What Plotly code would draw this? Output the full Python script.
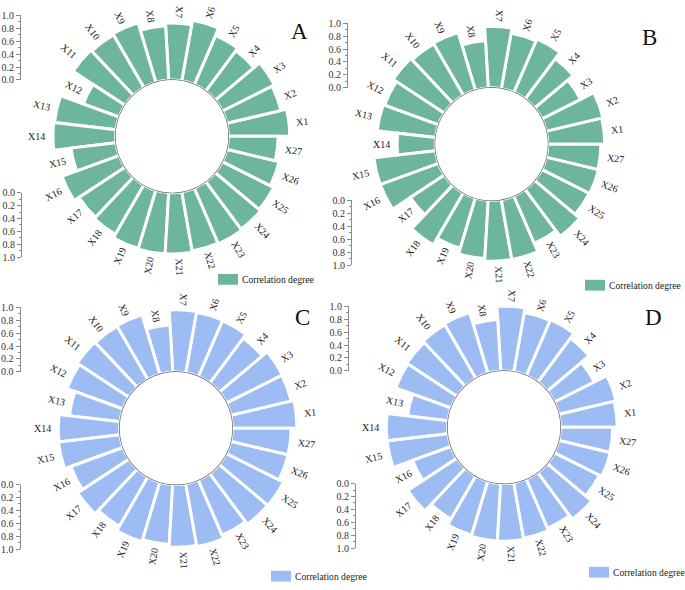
import numpy as np
import plotly.graph_objects as go

W, H = 685, 590

# ---- data ----
categories = ["X%d" % i for i in range(1, 28)]

values_a = [0.95, 0.86, 0.90, 0.78, 0.83, 0.95, 0.88, 0.84, 0.96, 0.94, 0.96, 0.59, 0.96, 0.97,
            0.70, 0.94, 0.85, 0.88, 0.94, 0.95, 0.95, 0.93, 0.94, 0.92, 0.89, 0.83, 0.77]
values_b = [0.88, 0.90, 0.67, 0.78, 0.90, 0.87, 0.95, 0.73, 0.93, 0.92, 0.95, 0.89, 0.91, 0.59,
            0.96, 0.96, 0.63, 0.93, 0.81, 0.90, 0.94, 0.94, 0.80, 0.91, 0.82, 0.83, 0.82]
values_c = [1.00, 0.96, 0.97, 0.87, 0.94, 0.95, 0.96, 0.73, 0.96, 0.95, 0.96, 0.92, 0.79, 0.95,
            0.96, 0.86, 0.95, 0.88, 0.96, 0.93, 0.97, 0.99, 0.93, 0.98, 0.99, 0.91, 0.91]
values_d = [0.88, 0.91, 0.69, 0.85, 0.94, 0.93, 1.00, 0.80, 0.98, 0.96, 0.93, 0.91, 0.63, 0.95,
            0.95, 0.63, 0.91, 0.77, 0.87, 0.89, 0.89, 0.87, 0.83, 0.90, 0.78, 0.82, 0.81]

panel_letters = ["A", "B", "C", "D"]
legend_label = "Correlation degree"
scale_ticks = [0.0, 0.2, 0.4, 0.6, 0.8, 1.0]

# ---- layout / style ----
GREEN = "#6db69b"
BLUE = "#9dbcf3"
FONT = "Liberation Serif"
R_IN = 57.5          # px radius of the hole
SPAN = 66.0          # px for a value of 1.0
R_OUT = R_IN + SPAN
N = len(categories)
STEP = 360.0 / N
theta = [STEP / 2 + i * STEP for i in range(N)]

panels = [
    dict(values=values_a, color=GREEN, cx=172, cy=133, up_x=20, low_x=21, letter=(299, 26), leg=(218, 279)),
    dict(values=values_b, color=GREEN, cx=491.5, cy=141, up_x=347, low_x=351, letter=(649, 32), leg=(585, 285)),
    dict(values=values_c, color=BLUE, cx=176, cy=431, up_x=19.5, low_x=19.5, letter=(302, 318), leg=(271, 582)),
    dict(values=values_d, color=BLUE, cx=504, cy=430, up_x=348, low_x=355, letter=(653, 318), leg=(589, 578)),
]

fig = go.Figure()
layout = {}
annotations = []
shapes = []

for k, p in enumerate(panels):
    pid = "polar" if k == 0 else "polar%d" % (k + 1)
    cx, cy = p["cx"], p["cy"]

    fig.add_trace(go.Barpolar(
        r=p["values"], theta=theta, width=[STEP] * N, subplot=pid,
        marker=dict(color=p["color"], line=dict(color="white", width=3)),
        name=legend_label, showlegend=False, hoverinfo="skip",
    ))
    ring = np.linspace(0, 360, 241)
    fig.add_trace(go.Scatterpolar(
        r=[0] * len(ring), theta=ring, subplot=pid, mode="lines",
        line=dict(color="#6a6a6a", width=1.4), cliponaxis=False,
        showlegend=False, hoverinfo="skip",
    ))

    layout[pid] = dict(
        domain=dict(x=[(cx - R_OUT) / W, (cx + R_OUT) / W],
                    y=[1 - (cy + R_OUT) / H, 1 - (cy - R_OUT) / H]),
        hole=R_IN / R_OUT, bgcolor="rgba(0,0,0,0)", bargap=0,
        radialaxis=dict(range=[0, 1], visible=False),
        angularaxis=dict(visible=False, direction="counterclockwise", rotation=0),
    )

    # category labels, radial
    for name, v, th in zip(categories, p["values"], theta):
        fs = 10
        tw = (0.72 + 0.5 * (len(name) - 1)) * fs
        rl = R_IN + v * SPAN + 5 + tw / 2
        a = np.radians(th)
        tp = ((th + 180) % 360) - 180
        if -90 < tp < 85:
            ang = -th
        else:
            ang = 180 - th
        ang = ((ang + 180) % 360) - 180
        annotations.append(dict(
            x=(cx + rl * np.cos(a)) / W, y=1 - (cy - rl * np.sin(a)) / H,
            xref="paper", yref="paper", text=name, showarrow=False, textangle=ang,
            xanchor="center", yanchor="middle", font=dict(family=FONT, size=fs, color="#1a1a1a"),
        ))

    # panel letter
    annotations.append(dict(
        x=p["letter"][0] / W, y=1 - p["letter"][1] / H, xref="paper", yref="paper",
        text=panel_letters[k], showarrow=False, xanchor="center", yanchor="middle",
        font=dict(family=FONT, size=23, color="#111"),
    ))

    # legend swatch + text
    lx, ly = p["leg"]
    shapes.append(dict(type="rect", xref="paper", yref="paper",
                       x0=lx / W, x1=(lx + 20) / W, y0=1 - (ly + 5.5) / H, y1=1 - (ly - 5.5) / H,
                       fillcolor=p["color"], line=dict(width=0)))
    annotations.append(dict(
        x=(lx + 22) / W, y=1 - ly / H, xref="paper", yref="paper", text=legend_label,
        showarrow=False, xanchor="left", yanchor="middle",
        font=dict(family=FONT, size=9.6, color="#1a1a1a"),
    ))

    # value scales (upper: 0 at the hole, up; lower: 0 at the hole, down)
    for j, (pos, dom, rng) in enumerate([
        (p["up_x"], [1 - (cy - R_IN) / H, 1 - (cy - R_OUT) / H], [0, 1]),
        (p["low_x"], [1 - (cy + R_OUT) / H, 1 - (cy + R_IN) / H], [1, 0]),
    ]):
        n = 2 * k + j + 1
        yid = "y" if n == 1 else "y%d" % n
        ykey = "yaxis" if n == 1 else "yaxis%d" % n
        fig.add_trace(go.Scatter(x=[None], y=[None], xaxis="x", yaxis=yid,
                                 showlegend=False, hoverinfo="skip"))
        layout[ykey] = dict(
            domain=dom, range=rng, anchor="free", position=pos / W, side="left",
            showline=True, linecolor="#8a8a8a", linewidth=1,
            ticks="outside", ticklen=4, tickcolor="#8a8a8a", tickwidth=1,
            tickvals=scale_ticks, ticktext=["%.1f" % t for t in scale_ticks],
            minor=dict(ticks="outside", ticklen=2, dtick=0.1, tick0=0, tickcolor="#8a8a8a"),
            showgrid=False, zeroline=False, fixedrange=True,
            tickfont=dict(family=FONT, size=10, color="#333"),
        )

layout["xaxis"] = dict(domain=[0, 1], range=[0, 1], visible=False, fixedrange=True)

fig.update_layout(
    width=W, height=H, margin=dict(l=0, r=0, t=0, b=0),
    paper_bgcolor="white", plot_bgcolor="rgba(0,0,0,0)",
    showlegend=False, annotations=annotations, shapes=shapes,
    **layout,
)

# the page's default body margin would shift the 685x590 figure
fig.write_html("out.html", config={"displayModeBar": False},
               post_script="document.body.style.margin='0';document.body.style.overflow='hidden';")
